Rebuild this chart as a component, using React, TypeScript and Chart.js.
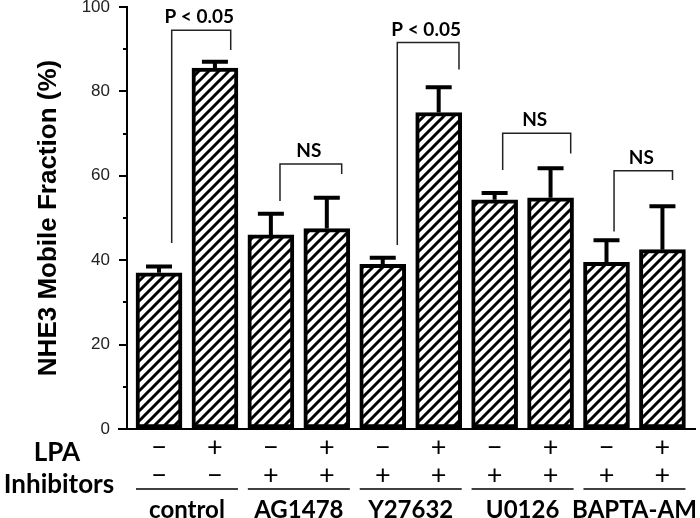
import React, { useEffect, useRef } from 'react';
import { Chart, registerables } from 'chart.js';

Chart.register(...registerables);

// ---- data ----
const groups = ['control', 'AG1478', 'Y27632', 'U0126', 'BAPTA-AM'];
const lpaSigns = ['−', '+', '−', '+', '−', '+', '−', '+', '−', '+'];
const inhibitorSigns = ['−', '−', '+', '+', '+', '+', '+', '+', '+', '+'];
const means = [37, 85.5, 46, 47.5, 39, 75, 54.3, 54.8, 39.5, 42.5];
const errors = [1.5, 1.5, 5, 7.3, 1.6, 6, 1.6, 7, 5.2, 10.3];
const yMajorTicks = [0, 20, 40, 60, 80, 100];
const yAxisTitle = 'NHE3 Mobile Fraction (%)';
const rowLabels = ['LPA', 'Inhibitors'];

// significance brackets (x in bar-index units, y in data units)
const bracketLabels = ['P < 0.05', 'NS', 'P < 0.05', 'NS', 'NS'];
const bracketLeftX = [0.227, 2.163, 4.26, 6.144, 8.135];
const bracketRightX = [1.282, 3.266, 5.363, 7.36, 9.18];
const bracketTop = [94.5, 62.8, 91.6, 70.1, 61.2];
const bracketLeftBottom = [44.1, 54.0, 43.6, 61.4, 46.8];
const bracketRightBottom = [89.8, 60.4, 85.2, 65.3, 59.0];

function makePattern(): CanvasPattern | string {
  const c = document.createElement('canvas');
  c.width = 10;
  c.height = 10;
  const g = c.getContext('2d');
  if (!g) return '#fff';
  g.fillStyle = '#fff';
  g.fillRect(0, 0, 10, 10);
  g.strokeStyle = '#000';
  g.lineWidth = 3;
  g.beginPath();
  g.moveTo(-2, 12); g.lineTo(12, -2);
  g.moveTo(-2, 2); g.lineTo(2, -2);
  g.moveTo(8, 12); g.lineTo(12, 8);
  g.stroke();
  const p = g.createPattern(c, 'repeat');
  return p || '#fff';
}

const overlayPlugin = {
  id: 'overlay',
  afterDatasetsDraw(chart: any) {
    const { ctx, scales, chartArea } = chart;
    const x = scales.x;
    const y = scales.y;
    ctx.save();

    // x axis line
    ctx.strokeStyle = '#000';
    ctx.lineWidth = 2;
    ctx.beginPath();
    ctx.moveTo(chartArea.left - 9, chartArea.bottom);
    ctx.lineTo(chartArea.right, chartArea.bottom);
    ctx.stroke();

    // minor ticks
    ctx.lineWidth = 2;
    for (let v = 10; v < 100; v += 20) {
      const py = Math.round(y.getPixelForValue(v));
      ctx.beginPath();
      ctx.moveTo(chartArea.left - 4, py);
      ctx.lineTo(chartArea.left, py);
      ctx.stroke();
    }

    // error bars (upper only)
    ctx.lineWidth = 4;
    ctx.strokeStyle = '#000';
    means.forEach((m, i) => {
      const px = x.getPixelForValue(i);
      const y0 = y.getPixelForValue(m);
      const y1 = y.getPixelForValue(m + errors[i]);
      ctx.beginPath();
      ctx.moveTo(px, y0);
      ctx.lineTo(px, y1);
      ctx.moveTo(px - 13, y1);
      ctx.lineTo(px + 13, y1);
      ctx.stroke();
    });

    // brackets
    ctx.lineWidth = 1.5;
    ctx.strokeStyle = '#222';
    ctx.fillStyle = '#000';
    ctx.font = 'bold 19px Lato';
    ctx.textAlign = 'center';
    ctx.textBaseline = 'middle';
    bracketLabels.forEach((lab, i) => {
      const xl = x.getPixelForValue(bracketLeftX[i]);
      const xr = x.getPixelForValue(bracketRightX[i]);
      const yt = y.getPixelForValue(bracketTop[i]);
      ctx.beginPath();
      ctx.moveTo(xl, y.getPixelForValue(bracketLeftBottom[i]));
      ctx.lineTo(xl, yt);
      ctx.lineTo(xr, yt);
      ctx.lineTo(xr, y.getPixelForValue(bracketRightBottom[i]));
      ctx.stroke();
      ctx.fillText(lab, (xl + xr) / 2 - 2, yt - 13);
    });

    // y axis title
    ctx.save();
    ctx.translate(49, (chartArea.top + chartArea.bottom) / 2);
    ctx.rotate(-Math.PI / 2);
    ctx.font = 'bold 26px "Liberation Sans"';
    ctx.fillText(yAxisTitle, 0, 0);
    ctx.restore();

    // sign rows
    ctx.font = '27px Lato';
    lpaSigns.forEach((s, i) => {
      const px = x.getPixelForValue(i);
      ctx.fillText(s, px, 447);
      ctx.fillText(inhibitorSigns[i], px, 475);
    });

    // row labels
    ctx.font = 'bold 26px Lato';
    ctx.fillText(rowLabels[0], 57, 453);
    ctx.fillText(rowLabels[1], 59, 485);

    // group underlines + labels
    ctx.lineWidth = 1.5;
    ctx.strokeStyle = '#000';
    ctx.font = 'bold 24px Lato';
    ctx.textBaseline = 'alphabetic';
    groups.forEach((g, gi) => {
      const cx = (x.getPixelForValue(gi * 2) + x.getPixelForValue(gi * 2 + 1)) / 2;
      ctx.beginPath();
      ctx.moveTo(cx - 51, 489);
      ctx.lineTo(cx + 51, 489);
      ctx.stroke();
      ctx.fillText(g, cx, 518);
    });

    ctx.restore();
  },
};

export default function App() {
  const ref = useRef<HTMLCanvasElement | null>(null);
  useEffect(() => {
    if (!ref.current) return;
    const pattern = makePattern();
    const chart = new Chart(ref.current, {
      type: 'bar',
      data: {
        datasets: [
          {
            data: means.map((v, i) => ({ x: i, y: v })),
            backgroundColor: pattern as any,
            borderColor: '#000',
            borderWidth: 4,
            borderSkipped: false,
            barThickness: 46,
          },
        ],
      },
      options: {
        responsive: false,
        animation: false,
        devicePixelRatio: 1,
        layout: { padding: { left: 0, top: 7, right: 4, bottom: 89 } },
        plugins: { legend: { display: false }, tooltip: { enabled: false } },
        scales: {
          x: {
            type: 'linear',
            min: -0.572,
            max: 9.6,
            offset: false,
            display: false,
          },
          y: {
            type: 'linear',
            min: 0,
            max: 100,
            afterFit: (s: any) => {
              s.width = 127;
              s.paddingTop = 0;
              s.paddingBottom = 0;
            },
            border: { display: true, color: '#000', width: 2 },
            grid: {
              drawOnChartArea: false,
              drawTicks: true,
              tickLength: 8,
              lineWidth: 2,
              color: (c: any) => (c.tick && c.tick.value % 20 === 0 ? '#000' : 'rgba(0,0,0,0)'),
            },
            ticks: {
              stepSize: 10,
              autoSkip: false,
              padding: 9,
              color: '#222',
              font: { family: '"Liberation Sans"', size: 17 },
              callback: (v: any) => (yMajorTicks.includes(Number(v)) ? String(v) : ''),
            },
          },
        },
      },
      plugins: [overlayPlugin],
    });
    return () => chart.destroy();
  }, []);
  return (
    <div style={{ position: 'absolute', left: 0, top: 0, width: 700, height: 518, background: '#fff' }}>
      <canvas ref={ref} width={700} height={518} style={{ display: 'block' }} />
    </div>
  );
}
